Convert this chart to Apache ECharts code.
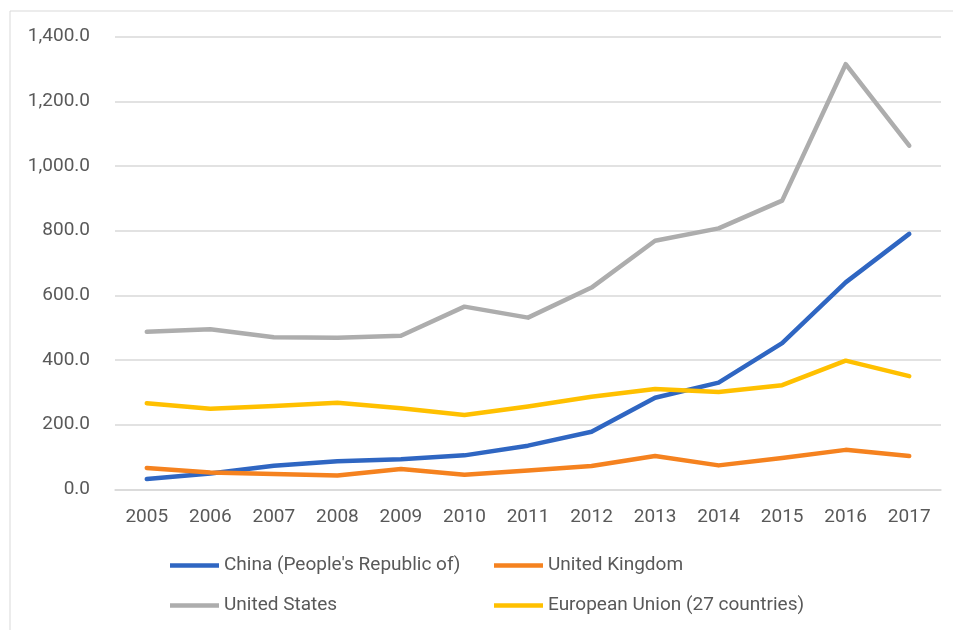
<!DOCTYPE html>
<html>
<head>
<meta charset="utf-8">
<script src="https://cdn.jsdelivr.net/npm/echarts@6/dist/echarts.min.js"></script>
<style>html,body{margin:0;padding:0;background:#fff}#c{width:953px;height:630px}</style>
</head>
<body>
<div id="c"></div>
<script>
const years = ['2005','2006','2007','2008','2009','2010','2011','2012','2013','2014','2015','2016','2017'];
const china = [32, 49, 73, 87, 93, 105, 135, 178, 283, 330, 452, 640, 790];
const uk = [66, 52, 47, 43, 63, 45, 58, 72, 103, 74, 97, 122, 103];
const us = [487, 495, 470, 469, 475, 565, 531, 624, 769, 807, 893, 1315, 1063];
const eu = [266, 249, 258, 268, 251, 230, 256, 286, 310, 301, 322, 398, 350];
const seriesNames = ["China (People's Republic of)", 'United Kingdom', 'United States', 'European Union (27 countries)'];
const colors = ['#2F66C2', '#F5821F', '#ADADAD', '#FFC000'];

const font = 'Roboto, "Noto Sans", sans-serif';
const textColor = '#595959';
const chart = echarts.init(document.getElementById('c'));

const legendPos = [[170, 556], [494, 556], [170, 596], [494, 596]];
const legends = seriesNames.map((n, i) => ({
  left: legendPos[i][0], top: legendPos[i][1], padding: 0,
  data: [n], icon: 'rect', itemWidth: 49, itemHeight: 4.5, itemGap: 4,
  selectedMode: false,
  textStyle: {color: textColor, fontSize: 19, fontFamily: font}
}));

chart.setOption({
  animation: false,
  color: colors,
  graphic: [{type: 'rect', shape: {x: 10, y: 11, width: 960, height: 640},
    style: {fill: 'none', stroke: '#D9D9D9', lineWidth: 1}, silent: true, z: -1}],
  grid: {left: 115, right: 12, top: 36.7, bottom: 140.7, containLabel: false},
  legend: legends,
  xAxis: {
    type: 'category', data: years, boundaryGap: true,
    axisLine: {show: true, lineStyle: {color: '#D9D9D9', width: 1.5}},
    axisTick: {show: false},
    axisLabel: {color: textColor, fontSize: 19, fontFamily: font, margin: 18}
  },
  yAxis: {
    type: 'value', min: 0, max: 1400, interval: 200,
    axisLine: {show: false}, axisTick: {show: false},
    splitLine: {lineStyle: {color: '#D9D9D9', width: 1.5}},
    axisLabel: {color: textColor, fontSize: 19, fontFamily: font, margin: 25,
      formatter: v => v.toLocaleString('en-US', {minimumFractionDigits: 1, maximumFractionDigits: 1})}
  },
  series: [china, uk, us, eu].map((d, i) => ({
    name: seriesNames[i], type: 'line', data: d, symbol: 'none',
    lineStyle: {width: 4.5, color: colors[i], cap: 'round', join: 'round'},
    itemStyle: {color: colors[i]}
  }))
});
</script>
</body>
</html>
